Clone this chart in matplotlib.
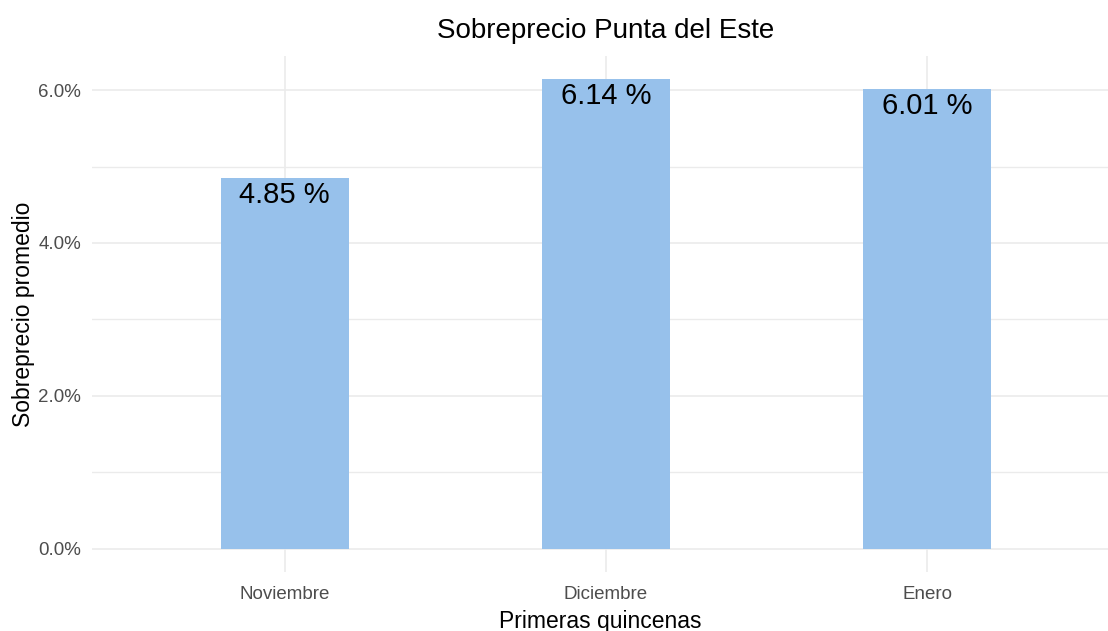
import matplotlib.pyplot as plt
import numpy as np
from matplotlib.ticker import FuncFormatter, MultipleLocator

# Datos
meses = ['Noviembre', 'Diciembre', 'Enero']
sobreprecio = [4.85, 6.14, 6.01]
ticks_y = [0, 2, 4, 6]

plt.rcParams['font.family'] = ['Liberation Sans', 'DejaVu Sans']

fig = plt.figure(figsize=(11.08, 6.31), dpi=100)
ax = fig.add_axes([92 / 1108, 1 - 572 / 631, 1 - 92 / 1108, (572 - 56) / 631])

x = np.arange(1, len(meses) + 1)
ax.bar(x, sobreprecio, width=0.4, color='#97C1EB', zorder=2)

for xi, v in zip(x, sobreprecio):
    ax.annotate(f'{v:.2f} %', (xi, v), xytext=(0, -18), textcoords='offset points',
                ha='center', va='baseline', fontsize=21, color='black', zorder=3)

# Ejes y grilla estilo theme_minimal
ax.set_xlim(0.4, 0.4 + 3.2 * (1108 - 92) / (1120 - 92))
ax.set_ylim(-0.307, 6.447)
ax.set_xticks(x)
ax.set_xticklabels(meses)
ax.set_yticks(ticks_y)
ax.yaxis.set_major_formatter(FuncFormatter(lambda v, p: f'{v:.1f}%'))
ax.yaxis.set_minor_locator(MultipleLocator(1))
ax.tick_params(axis='both', which='both', length=0, labelsize=13.5, labelcolor='#4D4D4D')
ax.tick_params(axis='x', pad=10)
ax.tick_params(axis='y', pad=8)

ax.grid(True, which='major', color='#EBEBEB', linewidth=1.2, zorder=0)
ax.grid(True, which='minor', axis='y', color='#EBEBEB', linewidth=1.0, zorder=0)
for s in ax.spines.values():
    s.set_visible(False)

ax.set_xlabel('Primeras quincenas', fontsize=16.5, labelpad=5)
ax.set_ylabel('Sobreprecio promedio', fontsize=16.5, labelpad=2)
fig.text(606 / 1108, 1 - 31 / 631, 'Sobreprecio Punta del Este', ha='center', va='center', fontsize=20)

fig.savefig('out.png', dpi=100)
